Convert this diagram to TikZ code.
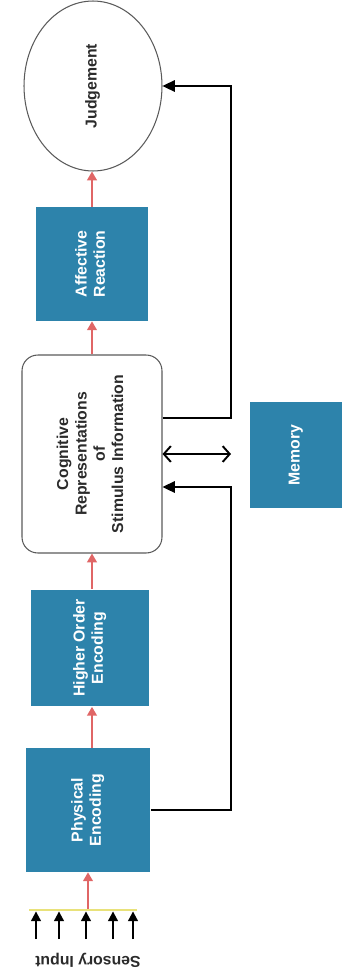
\documentclass[tikz,border=0pt]{standalone}
\usepackage{fontspec}
\setsansfont{Liberation Sans}
\usetikzlibrary{arrows.meta, positioning, shapes.geometric, calc}
\definecolor{cblue}{HTML}{2D83AB}
\definecolor{cred}{HTML}{E06666}
\definecolor{cyellow}{HTML}{E9E27A}
\definecolor{cgrey}{HTML}{5A5A5A}
\definecolor{ctext}{HTML}{2B2B2B}
\newcommand{\vtext}[1]{\rotatebox{90}{\begin{tabular}{@{}c@{}}#1\end{tabular}}}
\tikzset{
  every picture/.style={font=\sffamily\bfseries\fontsize{9}{10.4}\selectfont},
  stage/.style={rectangle, fill=cblue, text=white, inner sep=0pt},
  plain/.style={draw=cgrey, line width=0.6pt, text=ctext, inner sep=0pt},
  flow/.style={-{Triangle[length=5pt, width=5.5pt]}, draw=cred, line width=1.1pt},
  back/.style={-{Triangle[length=7pt, width=6.5pt]}, draw=black, line width=1.1pt},
  both/.style={{Straight Barb[length=4pt, width=9pt]}-{Straight Barb[length=4pt, width=9pt]}, draw=black, line width=1.1pt},
  sense/.style={-{Triangle[length=5.5pt, width=5.5pt]}, draw=black, line width=1.1pt},
}

\begin{document}
\begin{tikzpicture}[x=0.02cm, y=-0.02cm]
  \useasboundingbox (0,0) rectangle (347,977);
  % main column
  \node[plain, ellipse, minimum width=2.76cm, minimum height=3.4cm] (judge) at (93,86) {\vtext{Judgement}};
  \node[stage, minimum width=2.24cm, minimum height=2.28cm] (affect) at (92,264) {\vtext{Affective\\Reaction}};
  \node[plain, rounded corners=9pt, minimum width=2.8cm, minimum height=3.96cm] (cog) at (92,454) {\vtext{Cognitive\\Representations\\of\\Stimulus Information}};
  \node[stage, minimum width=2.38cm, minimum height=2.34cm] (higher) at (90,648) {\vtext{Higher Order\\Encoding}};
  \node[stage, minimum width=2.5cm, minimum height=2.48cm] (phys) at (88,810) {\vtext{Physical\\Encoding}};
  \node[stage, minimum width=1.84cm, minimum height=2.14cm] (memory) at (296,455) {\vtext{Memory}};
  % sensory input
  \node[fill=cyellow, minimum width=2.16cm, minimum height=1.2pt, inner sep=0pt] (bar) at (83,910) {};
  \node[rotate=180, text=ctext] (sensory) at (88,960) {Sensory Input};
  \foreach \x [count=\i] in {36,59,86,113,133} {
    \coordinate (s\i) at (\x,939);
    \draw[sense] (s\i) -- (s\i |- bar.south);
  }
  % forward flow
  \draw[flow] (bar.north -| phys) -- (phys.south);
  \draw[flow] (phys.north -| affect) -- (higher.south -| affect);
  \draw[flow] (higher.north -| affect) -- (cog.south -| affect);
  \draw[flow] (cog.north -| affect) -- (affect.south);
  \draw[flow] (affect.north) -- (judge.south -| affect);
  % feedback lines
  \coordinate (rtop) at (231,86);
  \coordinate (rlow) at (231,418);
  \coordinate (pin) at (231,487);
  \coordinate (pbot) at (231,810);
  \draw[back] (rlow -| cog.east) -- (rlow) -- (rtop) -- (judge.east);
  \draw[back] (phys.east) -- (pbot) -- (pin) -- (pin -| cog.east);
  \draw[both] (cog.east) -- (cog.east -| rtop);
\end{tikzpicture}
\end{document}
